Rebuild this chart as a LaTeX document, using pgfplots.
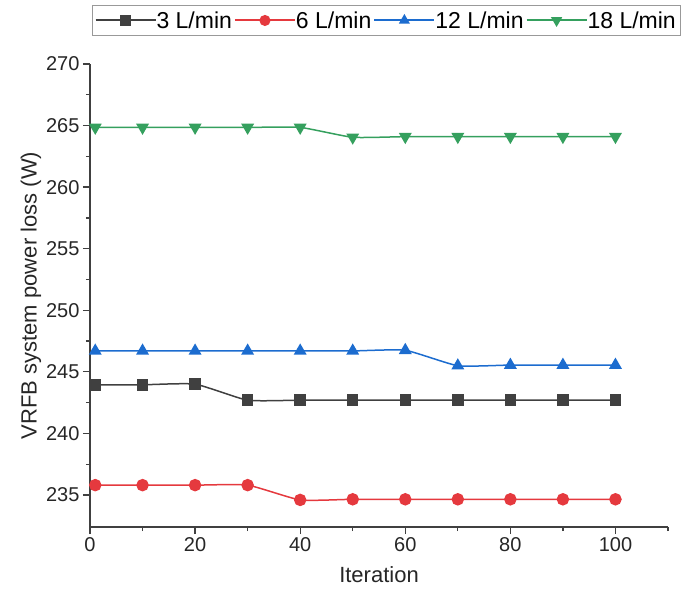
\documentclass[border=0pt]{standalone}
\usepackage{pgfplots}
\pgfplotsset{compat=1.18}
\usetikzlibrary{calc}
\usepackage{fontspec}
\setmainfont{Liberation Sans}
\definecolor{cblack}{HTML}{404040}
\definecolor{cred}{HTML}{E5393E}
\definecolor{cblue}{HTML}{1C6CCF}
\definecolor{cgreen}{HTML}{35A05E}
\begin{document}
\begin{tikzpicture}
\begin{axis}[
  name=ax,
  scale only axis,
  width=578pt, height=463pt,
  xmin=0, xmax=110, ymin=232.4, ymax=270,
  axis x line*=bottom, axis y line*=left,
  axis line style={-, line width=1.3pt, black!75},
  tick align=outside,
  xtick={0,20,...,100}, minor xtick={10,30,...,110},
  ytick={235,240,...,270}, minor ytick={237.5,242.5,...,267.5},
  major tick length=7pt, minor tick length=4pt,
  tick style={line width=1.3pt, black!75},
  /pgf/number format/assume math mode=true,
  ticklabel style={font=\fontsize{20}{24}\selectfont, text=black!85},
  xlabel={Iteration}, ylabel={VRFB system power loss (W)},
  label style={font=\fontsize{22}{26}\selectfont, text=black!85},
  xlabel style={yshift=-8pt},
  ylabel style={yshift=-2pt},
  legend columns=4,
  legend style={at={(1.0208,1.127)}, anchor=north east, draw=black!40,
    font=\fontsize{23}{27}\selectfont, inner xsep=2pt, inner ysep=4pt,
    /tikz/every even column/.append style={column sep=0pt},
    /tikz/every odd column/.append style={column sep=-2pt}},
  legend image code/.code={\draw[line width=2pt, mark repeat=2,mark phase=2, mark size=4.5pt] plot coordinates {(0pt,0pt)(30pt,0pt)(60pt,0pt)};},
]
\addplot[cblack, line width=1.5pt, smooth, tension=0.3, mark=square*, mark size=5pt, mark options={solid, fill=cblack}] coordinates {
(1,243.95) (10,243.95) (20,244.0) (30,242.7) (40,242.7) (50,242.7) (60,242.7) (70,242.7) (80,242.7) (90,242.7) (100,242.7)};
\addlegendentry{3 L/min}
\addplot[cred, line width=1.5pt, smooth, tension=0.3, mark=*, mark size=5.5pt, mark options={solid, fill=cred}] coordinates {
(1,235.8) (10,235.8) (20,235.8) (30,235.8) (40,234.6) (50,234.65) (60,234.65) (70,234.65) (80,234.65) (90,234.65) (100,234.65)};
\addlegendentry{6 L/min}
\addplot[cblue, line width=1.5pt, smooth, tension=0.3, mark=triangle*, mark size=6pt, mark options={solid, fill=cblue}] coordinates {
(1,246.7) (10,246.7) (20,246.7) (30,246.7) (40,246.7) (50,246.7) (60,246.75) (70,245.5) (80,245.55) (90,245.55) (100,245.55)};
\addlegendentry{12 L/min}
\addplot[cgreen, line width=1.5pt, smooth, tension=0.3, mark=triangle*, mark size=6pt, mark options={solid, fill=cgreen, rotate=180}] coordinates {
(1,264.85) (10,264.85) (20,264.85) (30,264.85) (40,264.85) (50,264.05) (60,264.1) (70,264.1) (80,264.1) (90,264.1) (100,264.1)};
\addlegendentry{18 L/min}
\end{axis}
\path ($(ax.south west)+(-90pt,-79pt)$) rectangle ($(ax.north east)+(14pt,64pt)$);
\end{tikzpicture}
\end{document}
